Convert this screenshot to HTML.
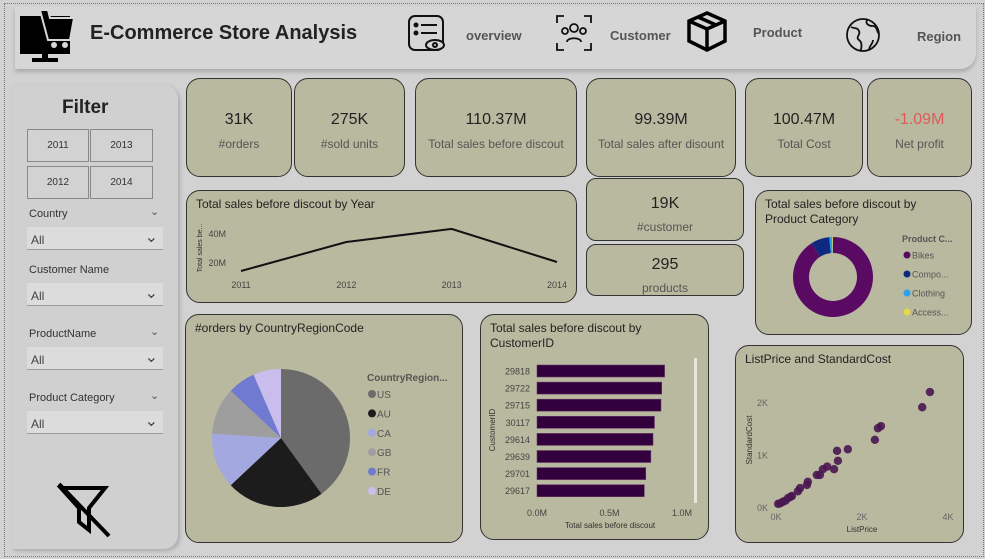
<!DOCTYPE html>
<html><head><meta charset="utf-8"><style>
*{box-sizing:border-box;margin:0;padding:0}
body{width:985px;height:559px;overflow:hidden;background:#d2d2d2;font-family:"Liberation Sans",sans-serif;position:relative}
.abs{position:absolute}
.card{position:absolute;background:#b8b99f;border:1.3px solid #333;border-radius:14px}
.kv{position:absolute;width:100%;text-align:center;top:32px;font-size:16px;color:#222}
.kl{position:absolute;width:100%;text-align:center;top:58px;font-size:12px;color:#555}
.ttl{position:absolute;left:9px;top:6px;font-size:12px;color:#222;line-height:15px}
.yb{position:absolute;border:1px solid #888;background:#d2d2d2;font-size:10px;text-align:center;line-height:32px;color:#333}
.fl{position:absolute;left:29px;font-size:11px;color:#333}
.dd{position:absolute;left:27px;width:136px;height:23px;background:#dcdcdc;border-bottom:1px solid #999;font-size:12px;color:#444;padding:6px 0 0 4px}
.nav{position:absolute;font-size:13px;font-weight:bold;color:#555}
</style></head><body>
<div class="abs" style="left:4px;top:3px;width:980px;height:554px;border:1px dotted #777"></div>
<div class="abs" style="left:15px;top:6px;width:961px;height:63px;background:#d6d6d6;border-radius:0 0 16px 0;box-shadow:0 3px 4px #aaa"></div>
<svg class="abs" style="left:18px;top:8px" width="58" height="56" viewBox="0 0 58 56"><rect x="2" y="8" width="50" height="38" fill="#000"/><path d="M22 2 L30 2 L32 10 L56 10 L52 32 L30 32 Z" fill="#000" stroke="#d6d6d6" stroke-width="2"/><circle cx="36" cy="37" r="3" fill="#d6d6d6"/><circle cx="47" cy="37" r="3" fill="#d6d6d6"/><rect x="24" y="46" width="6" height="5" fill="#000"/><rect x="14" y="50" width="26" height="4" fill="#000"/></svg>
<div class="abs" style="left:90px;top:22px;font-size:20px;font-weight:bold;color:#222">E-Commerce Store Analysis</div>
<svg class="abs" style="left:407px;top:14px" width="40" height="40" viewBox="0 0 40 40" fill="none" stroke="#111" stroke-width="2"><rect x="2" y="2" width="34" height="34" rx="6"/><circle cx="9" cy="11" r="1.5" fill="#111"/><line x1="14" y1="11" x2="30" y2="11"/><circle cx="9" cy="19" r="1.5" fill="#111"/><line x1="14" y1="19" x2="30" y2="19"/><ellipse cx="28" cy="31" rx="9" ry="5" fill="#d6d6d6"/><circle cx="28" cy="31" r="2"/></svg>
<div class="nav" style="left:466px;top:28px">overview</div>
<svg class="abs" style="left:555px;top:14px" width="38" height="38" viewBox="0 0 38 38" fill="none" stroke="#111" stroke-width="1.8"><path d="M2 9V2H9M29 2H36V9M2 29V36H9M29 36H36V29"/><circle cx="19" cy="14" r="4"/><path d="M12 28c0-5 14-5 14 0"/><circle cx="10" cy="17" r="3"/><circle cx="28" cy="17" r="3"/></svg>
<div class="nav" style="left:610px;top:28px">Customer</div>
<svg class="abs" style="left:686px;top:10px" width="43" height="43" viewBox="0 0 43 43" fill="none" stroke="#000" stroke-width="3.5"><path d="M21 3L39 11V31L21 40L3 31V11Z"/><path d="M3 11L21 19L39 11M21 19V40M12 7L30 15"/></svg>
<div class="nav" style="left:753px;top:25px">Product</div>
<svg class="abs" style="left:845px;top:17px" width="36" height="36" viewBox="0 0 36 36" fill="none" stroke="#111" stroke-width="1.8"><circle cx="18" cy="18" r="16"/><path d="M6 10c4 2 6 0 8 4s-4 6 0 9 2 8 2 10M22 3c-2 4 2 6 6 6s4 6 6 8M24 33c0-4 4-6 4-10"/></svg>
<div class="nav" style="left:917px;top:29px">Region</div>

<div class="abs" style="left:12px;top:85px;width:166px;height:464px;background:#d0d0d0;border-radius:0 14px 14px 0;box-shadow:2px 2px 4px #aaa"></div>
<div class="abs" style="left:62px;top:97px;font-size:19px;font-weight:bold;color:#222">Filter</div>
<div class="yb" style="left:27px;top:129px;width:62px;height:33px">2011</div>
<div class="yb" style="left:90px;top:129px;width:63px;height:33px">2013</div>
<div class="yb" style="left:27px;top:166px;width:62px;height:33px">2012</div>
<div class="yb" style="left:90px;top:166px;width:63px;height:33px">2014</div>
<div class="fl" style="top:208px">Country</div>
<div class="abs" style="left:150px;top:205px;font-size:11px;color:#555">⌄</div>
<div class="dd" style="top:227px">All<span style="position:absolute;right:5px;top:0;font-size:16px">⌄</span></div>
<div class="fl" style="top:264px">Customer Name</div>
<div class="dd" style="top:283px">All<span style="position:absolute;right:5px;top:0;font-size:16px">⌄</span></div>
<div class="fl" style="top:328px">ProductName</div>
<div class="abs" style="left:150px;top:325px;font-size:11px;color:#555">⌄</div>
<div class="dd" style="top:347px">All<span style="position:absolute;right:5px;top:0;font-size:16px">⌄</span></div>
<div class="fl" style="top:392px">Product Category</div>
<div class="abs" style="left:150px;top:389px;font-size:11px;color:#555">⌄</div>
<div class="dd" style="top:411px">All<span style="position:absolute;right:5px;top:0;font-size:16px">⌄</span></div>
<svg class="abs" style="left:55px;top:480px" width="60" height="60" viewBox="0 0 60 60" fill="none" stroke="#000" stroke-width="4"><path d="M6 8H50L34 28V50L24 42V28Z"/><line x1="4" y1="4" x2="54" y2="56"/></svg>

<div class="card" style="left:186px;top:78px;width:106px;height:99px"><div class="kv">31K</div><div class="kl">#orders</div></div>
<div class="card" style="left:294px;top:78px;width:111px;height:99px"><div class="kv">275K</div><div class="kl">#sold units</div></div>
<div class="card" style="left:415px;top:78px;width:162px;height:99px"><div class="kv">110.37M</div><div class="kl">Total sales before discout</div></div>
<div class="card" style="left:586px;top:78px;width:150px;height:99px"><div class="kv">99.39M</div><div class="kl">Total sales after disount</div></div>
<div class="card" style="left:745px;top:78px;width:118px;height:99px"><div class="kv">100.47M</div><div class="kl">Total Cost</div></div>
<div class="card" style="left:867px;top:78px;width:105px;height:99px"><div class="kv" style="color:#e05a5a">-1.09M</div><div class="kl">Net profit</div></div>
<div class="card" style="left:586px;top:178px;width:158px;height:63px;border-radius:10px"><div class="kv" style="top:16px">19K</div><div class="kl" style="top:41px">#customer</div></div>
<div class="card" style="left:586px;top:244px;width:158px;height:52px;border-radius:10px;overflow:hidden"><div class="kv" style="top:11px">295</div><div class="kl" style="top:36px">products</div></div>

<div class="card" style="left:186px;top:190px;width:391px;height:113px"><div class="ttl">Total sales before discout by Year</div></div>
<div class="card" style="left:755px;top:190px;width:217px;height:145px"><div class="ttl">Total sales before discout by<br>Product Category</div></div>
<div class="card" style="left:185px;top:314px;width:278px;height:229px"><div class="ttl">#orders by CountryRegionCode</div></div>
<div class="card" style="left:480px;top:314px;width:229px;height:226px"><div class="ttl">Total sales before discout by<br>CustomerID</div></div>
<div class="card" style="left:735px;top:345px;width:229px;height:198px"><div class="ttl">ListPrice and StandardCost</div></div>

<svg id="ch" class="abs" style="left:0;top:0" width="985" height="559" font-family="Liberation Sans, sans-serif"></svg>
<script>
const years=["2011","2012","2013","2014"];
const yearSales=[13.8,33.8,42.8,20];
const yearTicks=[20,40];
const countries=["US","AU","CA","GB","FR","DE"];
const countryOrders=[40,23,13,11,6.5,6.5];
const countryColors=["#6b6b6b","#1c1c1c","#a4a8e0","#9e9e9e","#6f7ad0","#c8bdec"];
const categories=["Bikes","Compo...","Clothing","Access..."];
const categorySales=[91,7.5,1.2,0.3];
const categoryColors=["#5a0a63","#0d2a80","#2aa0f0","#e8d84a"];
const customerIds=["29818","29722","29715","30117","29614","29639","29701","29617"];
const customerSales=[0.88,0.86,0.855,0.81,0.80,0.785,0.75,0.74];
const barTicks=["0.0M","0.5M","1.0M"];
const listPrice=[3.58,3.40,2.44,2.37,2.30,1.67,1.42,1.44,1.35,1.19,1.09,1.02,0.95,0.74,0.72,0.56,0.51,0.37,0.28,0.16,0.05,0.10,0.22,0.33];
const stdCost=[2.19,1.90,1.54,1.50,1.28,1.10,1.07,0.88,0.72,0.77,0.72,0.61,0.61,0.48,0.42,0.36,0.30,0.21,0.17,0.10,0.06,0.07,0.12,0.19];
const scTicks=[0,1,2];
const scXTicks=[0,2,4];

const S=document.getElementById('ch');
const NS="http://www.w3.org/2000/svg";
function mk(t,a,txt){const e=document.createElementNS(NS,t);for(const k in a)e.setAttribute(k,a[k]);if(txt!=null)e.textContent=txt;S.appendChild(e);return e;}

const lx=i=>241+i*(557-241)/(years.length-1), ly=v=>262-(v-20)*29/20;
yearTicks.forEach(t=>{const e=mk('text',{x:226,y:ly(t)+4,'font-size':9,fill:'#444','text-anchor':'end'},t+'M');

});
years.forEach((y,i)=>{const e=mk('text',{x:lx(i),y:288,'font-size':9,fill:'#444','text-anchor':'middle'},y);

});
let yt=mk('text',{x:202,y:248,'font-size':7,fill:'#333','text-anchor':'middle',transform:'rotate(-90 202 248)'},'Total sales be...');


const ln=mk('polyline',{points:yearSales.map((v,i)=>lx(i)+','+ly(v)).join(' '),fill:'none',stroke:'#111','stroke-width':2});



function arcs(vals,cx,cy,r,ri,cols,name){const tot=vals.reduce((a,b)=>a+b,0);let a0=-Math.PI/2;
vals.forEach((v,i)=>{const a1=a0+v/tot*2*Math.PI,lg=a1-a0>Math.PI?1:0;
const p=(a,rr)=>(cx+rr*Math.cos(a))+' '+(cy+rr*Math.sin(a));
let d=ri?`M${p(a0,r)}A${r} ${r} 0 ${lg} 1 ${p(a1,r)}L${p(a1,ri)}A${ri} ${ri} 0 ${lg} 0 ${p(a0,ri)}Z`:`M${cx} ${cy}L${p(a0,r)}A${r} ${r} 0 ${lg} 1 ${p(a1,r)}Z`;
const e=mk('path',{d:d,fill:cols[i]});


a0=a1;});}
arcs(countryOrders,281,438,69,0,countryColors,'pie-slice');
let lt=mk('text',{x:367,y:381,'font-size':10,'font-weight':'bold',fill:'#555'},'CountryRegion...');


countries.forEach((c,i)=>{const y=394+i*19.4;mk('circle',{cx:372,cy:y,r:4,fill:countryColors[i]});
const e=mk('text',{x:377,y:y+4,'font-size':10,fill:'#555'},c);

});

arcs(categorySales,833,277,40,24,categoryColors,'donut-slice');
let dt=mk('text',{x:902,y:242,'font-size':9,'font-weight':'bold',fill:'#555'},'Product C...');


categories.forEach((c,i)=>{const y=255+i*19;mk('circle',{cx:907,cy:y,r:3.5,fill:categoryColors[i]});
const e=mk('text',{x:912,y:y+3.5,'font-size':9,fill:'#555'},c);

});

const bx=v=>537+v*145;
customerIds.forEach((c,i)=>{const y=371+i*17.1;
const r=mk('rect',{x:bx(0),y:y-6,width:bx(customerSales[i])-bx(0),height:12,fill:'#32003c',stroke:'#6a3a6a','stroke-width':0.6});


const t=mk('text',{x:530,y:y+3.5,'font-size':9,fill:'#444','text-anchor':'end'},c);

});
barTicks.forEach((t,i)=>{const e=mk('text',{x:bx(i*0.5),y:516,'font-size':9,fill:'#444','text-anchor':'middle'},t);

});
let bxt=mk('text',{x:610,y:528,'font-size':8,fill:'#333','text-anchor':'middle'},'Total sales before discout');


let byt=mk('text',{x:495,y:430,'font-size':8,fill:'#333','text-anchor':'middle',transform:'rotate(-90 495 430)'},'CustomerID');


let sb=mk('rect',{x:694,y:358,width:3,height:145,fill:'#e6e6dc'});



const sx=v=>776+v*43, sy=v=>507-v*52.5;
scTicks.forEach(t=>{const e=mk('text',{x:768,y:sy(t)+4,'font-size':9,fill:'#666','text-anchor':'end'},t+'K');

});
scXTicks.forEach(t=>{const e=mk('text',{x:sx(t),y:520,'font-size':9,fill:'#666','text-anchor':'middle'},t+'K');

});
let sxt=mk('text',{x:862,y:532,'font-size':8,fill:'#333','text-anchor':'middle'},'ListPrice');


let syt=mk('text',{x:752,y:440,'font-size':8,fill:'#333','text-anchor':'middle',transform:'rotate(-90 752 440)'},'StandardCost');


listPrice.forEach((v,i)=>{const c=mk('circle',{cx:sx(v),cy:sy(stdCost[i]),r:4.2,fill:'#4a1650','fill-opacity':0.9});

});
</script>
</body></html>
